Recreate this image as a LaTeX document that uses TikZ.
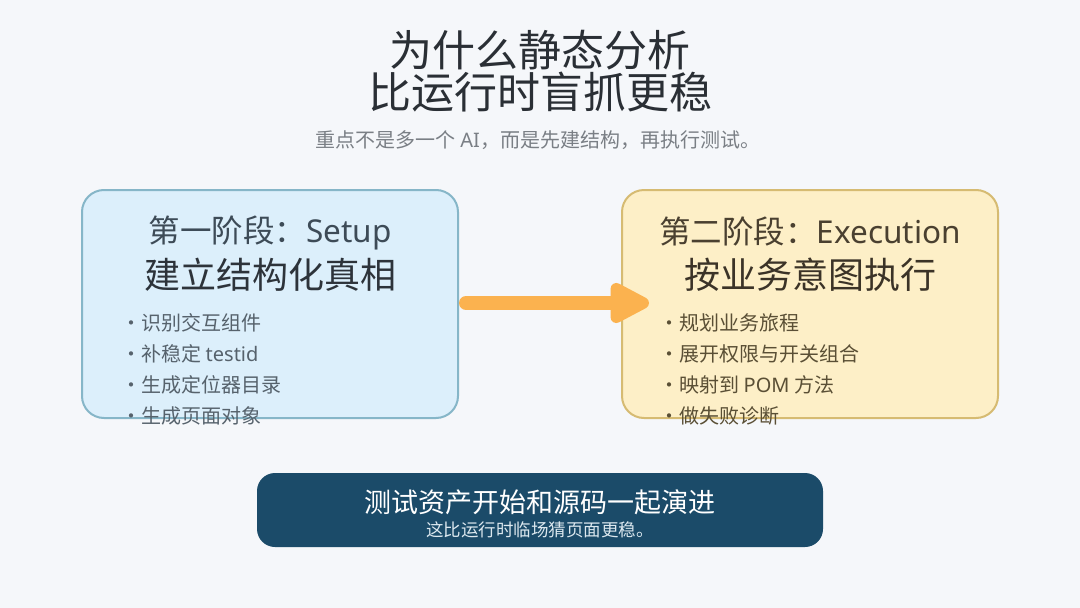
\documentclass[tikz,border=0pt]{standalone}
\usepackage{fontspec}
\setmainfont{Noto Sans CJK SC}
\newfontfamily\latinfont{Noto Sans}
\usetikzlibrary{arrows.meta,calc}
\definecolor{bgc}{HTML}{F5F7FA}
\definecolor{titlec}{HTML}{2A2F35}
\definecolor{subc}{HTML}{7A7F85}
\definecolor{lfill}{HTML}{DCEFFB}
\definecolor{ldraw}{HTML}{86B6C8}
\definecolor{rfill}{HTML}{FDEFC7}
\definecolor{rdraw}{HTML}{D6BB72}
\definecolor{lhead}{HTML}{3D4B57}
\definecolor{rhead}{HTML}{4A4030}
\definecolor{lbul}{HTML}{56626C}
\definecolor{rbul}{HTML}{5A4F35}
\definecolor{arrc}{HTML}{FBB24F}
\definecolor{botc}{HTML}{1B4B69}
\definecolor{botsub}{HTML}{DCE8EF}
\tikzset{
  phasebox/.style={rounded corners=22pt, line width=2pt, minimum width=376pt, minimum height=228pt, inner sep=0pt},
  headtxt/.style={font=\fontsize{31.5}{31.5}\selectfont, anchor=center, inner sep=0pt},
  maintxt/.style={font=\fontsize{36}{36}\selectfont, anchor=center, inner sep=0pt},
  bullettxt/.style={font=\fontsize{20}{20}\selectfont, anchor=west, inner sep=0pt},
}
\begin{document}
\begin{tikzpicture}[x=1pt,y=-1pt]
\useasboundingbox[fill=bgc] (0,0) rectangle (1080,608);
% title
\node[font=\fontsize{43}{43}\selectfont, text=titlec, inner sep=0pt] (t1) at (540,50) {为什么静态分析};
\node[font=\fontsize{43}{43}\selectfont, text=titlec, inner sep=0pt] (t2) at (540,92) {比运行时盲抓更稳};
\node[font=\fontsize{20}{20}\selectfont, text=subc, inner sep=0pt] (sub) at (538,140) {重点不是多一个 {\latinfont AI}，而是先建结构，再执行测试。};
% left box
\node[phasebox, fill=lfill, draw=ldraw] (L) at (270,304) {};
\node[headtxt, text=lhead] (Lh) at (270,233) {第一阶段：{\latinfont Setup}};
\node[maintxt, text=titlec!85!lhead] (Lm) at (270,275) {建立结构化真相};
\node[bullettxt, text=lbul] (Lb1) at (121,323) {·识别交互组件};
\node[bullettxt, text=lbul] (Lb2) at (121,354) {·补稳定 {\latinfont testid}};
\node[bullettxt, text=lbul] (Lb3) at (121,385) {·生成定位器目录};
\node[bullettxt, text=lbul] (Lb4) at (121,416) {·生成页面对象};
% right box
\node[phasebox, fill=rfill, draw=rdraw] (R) at (810,304) {};
\node[headtxt, text=rhead] (Rh) at (810,231) {第二阶段：{\latinfont Execution}};
\node[maintxt, text=rhead!80!black] (Rm) at (810,275) {按业务意图执行};
\node[bullettxt, text=rbul] (Rb1) at (659,323) {·规划业务旅程};
\node[bullettxt, text=rbul] (Rb2) at (659,354) {·展开权限与开关组合};
\node[bullettxt, text=rbul] (Rb3) at (659,385) {·映射到 {\latinfont POM} 方法};
\node[bullettxt, text=rbul] (Rb4) at (659,416) {·做失败诊断};
% arrow
\coordinate (as) at ($(L.east)+(7,-1)$);
\coordinate (ae) at ($(R.west)+(28,-1)$);
\draw[arrc, line width=14pt, line cap=round, -{Triangle[length=46pt,width=44pt,round=false]}] (as) -- (ae);
% bottom
\node[fill=botc, rounded corners=18pt, minimum width=566pt, minimum height=74pt, inner sep=0pt] (B) at (540,510) {};
\node[font=\fontsize{27}{27}\selectfont, text=white, inner sep=0pt] (Bt) at (540,502) {测试资产开始和源码一起演进};
\node[font=\fontsize{17.5}{17.5}\selectfont, text=botsub, inner sep=0pt] (Bs) at (540,530) {这比运行时临场猜页面更稳。};
\end{tikzpicture}
\end{document}
